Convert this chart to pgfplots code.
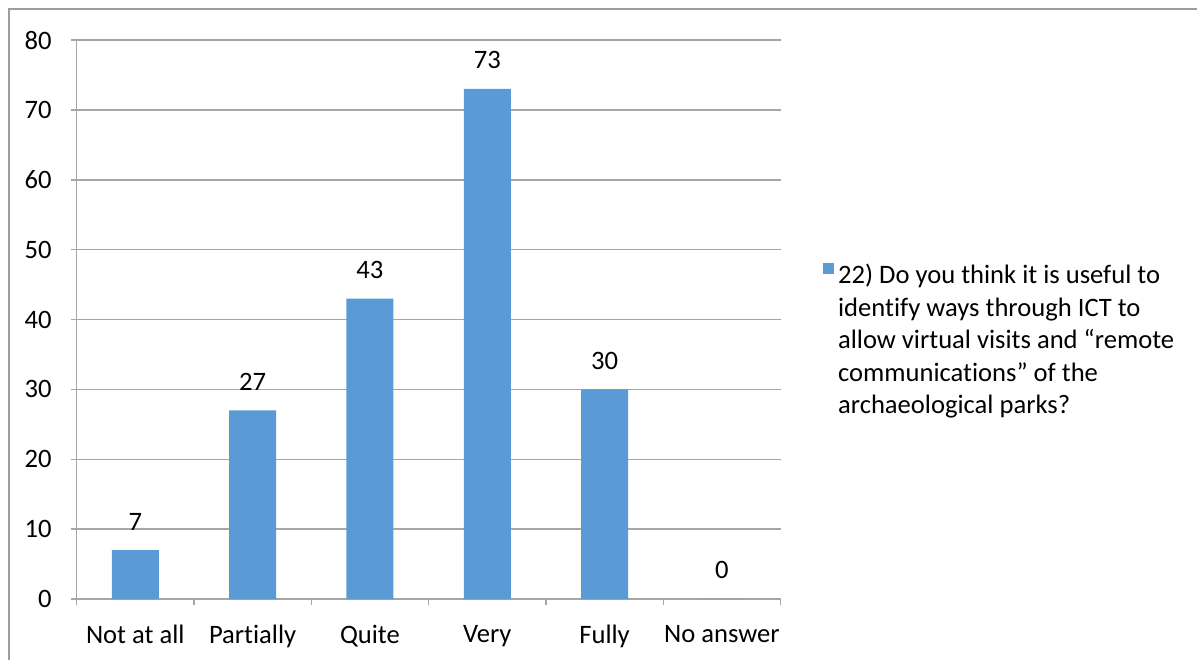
\documentclass[border=0pt]{standalone}
\usepackage{pgfplots}
\pgfplotsset{compat=1.18}
\usepackage{fontspec}
\setmainfont{Carlito}[Ligatures={NoCommon}]
\definecolor{barblue}{HTML}{5B9BD5}
\definecolor{gridgray}{HTML}{A6A6A6}
\definecolor{framegray}{HTML}{9E9E9E}
\begin{document}
\begin{tikzpicture}[font=\fontsize{13.3}{14}\selectfont]
\useasboundingbox (0pt,0pt) rectangle (598.5pt,-329.5pt);
\draw[framegray, line width=0.8pt] (4.5pt,-330pt) -- (4.5pt,-4.5pt) -- (599pt,-4.5pt);
\begin{axis}[
  at={(38.3pt,-299.5pt)}, anchor=south west,
  scale only axis, width=352pt, height=279.5pt,
  xmin=-0.5, xmax=5.5, ymin=0, ymax=80,
  ytick distance=10,
  axis x line=bottom, axis y line=left,
  axis line style={-, gridgray, line width=0.75pt},
  ymajorgrids, grid style={gridgray, line width=0.75pt},
  tick align=outside,
  ytick style={gridgray, line width=0.75pt},
  xtick style={gridgray, line width=0.75pt},
  major tick length=3pt,
  xtick={-0.5,0.5,...,5.5},
  x tick label as interval,
  xticklabels={Not at all,Partially,Quite,Very,Fully,No answer},
  xticklabel style={text=black, yshift=-6.5pt},
  yticklabel style={text=black, xshift=-6pt},
  /pgf/number format/assume math mode=true,
  ybar, bar width=23.5pt,
  nodes near coords,
  nodes near coords style={text=black, yshift=6.5pt},
  legend style={draw=none, at={(1.051,0.62)}, anchor=north west, fill=none,
    legend cell align=left},
  legend image code/.code={\fill[barblue] (0pt,-0.3pt) rectangle (5.6pt,5.3pt);},
]
\addplot[fill=barblue, draw=none] coordinates {(0,7) (1,27) (2,43) (3,73) (4,30) (5,0)};
\addlegendentry{{\def\arraystretch{1.16}\begin{tabular}[t]{@{}l@{}}22) Do you think it is useful to\\identify ways through ICT to\\allow virtual visits and “remote\\communications” of the\\archaeological parks?\end{tabular}}}
\end{axis}
\end{tikzpicture}
\end{document}
